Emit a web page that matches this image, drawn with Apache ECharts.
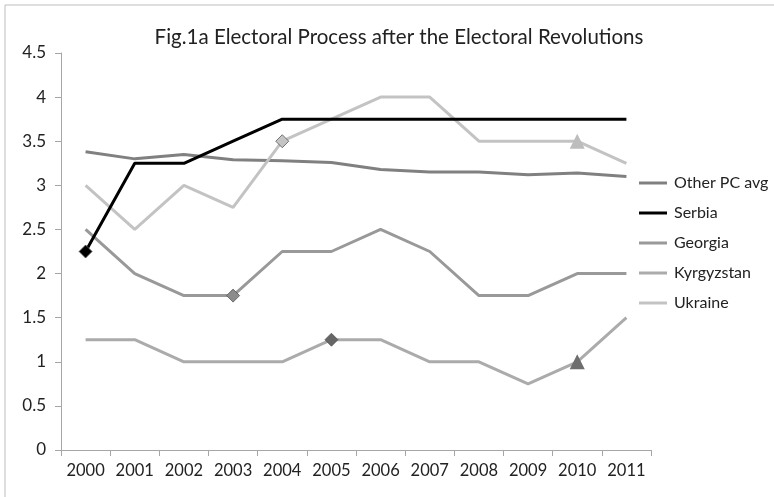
<!DOCTYPE html>
<html><head><meta charset="utf-8">
<script src="https://cdn.jsdelivr.net/npm/echarts@6/dist/echarts.min.js"></script>
<style>html,body{margin:0;padding:0;background:#fff}#c{width:774px;height:497px}</style>
</head><body><div id="c"></div>
<script>
const years = ['2000','2001','2002','2003','2004','2005','2006','2007','2008','2009','2010','2011'];
const otherPC = [3.38,3.30,3.35,3.29,3.28,3.26,3.18,3.15,3.15,3.12,3.14,3.10];
const serbia = [2.25,3.25,3.25,3.5,3.75,3.75,3.75,3.75,3.75,3.75,3.75,3.75];
const georgia = [2.5,2.0,1.75,1.75,2.25,2.25,2.5,2.25,1.75,1.75,2.0,2.0];
const kyrgyzstan = [1.25,1.25,1.0,1.0,1.0,1.25,1.25,1.0,1.0,0.75,1.0,1.5];
const ukraine = [3.0,2.5,3.0,2.75,3.5,3.75,4.0,4.0,3.5,3.5,3.5,3.25];
const yTicks = [0,0.5,1,1.5,2,2.5,3,3.5,4,4.5];

// marker points: [index, symbol, fill]
const marks = {
  serbia: [[0,'diamond','#000000']],
  georgia: [[3,'diamond','#8c8c8c']],
  kyrgyzstan: [[5,'diamond','#666666'],[10,'triangle','#6e6e6e']],
  ukraine: [[4,'diamond','#c4c4c4'],[10,'triangle','#bdbdbd']]
};

function mk(name, data, color, key){
  const m = marks[key] || [];
  const d = data.map((v,i)=>{
    const f = m.find(x=>x[0]===i);
    if(!f) return v;
    return {value:v, symbol:f[1], symbolSize:f[1]==='triangle'?15:13,
      itemStyle:{color:f[2], borderColor:'#555', borderWidth:f[1]==='triangle'?0:0.8}};
  });
  return {name, type:'line', data:d, symbol:'none', showSymbol:true, z: key==='serbia'?5:3,
    lineStyle:{color, width:3}, itemStyle:{color}, animation:false};
}

const chart = echarts.init(document.getElementById('c'));
chart.setOption({
  animation:false,
  backgroundColor:'#fff',
  title:{text:'Fig.1a Electoral Process after the Electoral Revolutions', left:394, top:22, textAlign:'center',
    textStyle:{fontFamily:'Lato', fontSize:20.5, fontWeight:'normal', color:'#222'}},
  graphic:[{type:'rect', shape:{x:5,y:5,width:800,height:600}, style:{fill:'none', stroke:'#bdbdbd', lineWidth:1}, z:-1}],
  legend:{orient:'vertical', left:634, top:170, itemGap:14, itemWidth:28, itemHeight:19,
    icon:'path://M0,8 L28,8 L28,11 L0,11 Z',
    textStyle:{fontFamily:'Lato', fontSize:16, color:'#222', padding:[0,0,0,2]},
    data:['Other PC avg','Serbia','Georgia','Kyrgyzstan','Ukraine']},
  grid:{left:61, right:123, top:53, bottom:47},
  xAxis:{type:'category', data:years, boundaryGap:true,
    axisLine:{lineStyle:{color:'#a6a6a6', width:1}},
    axisTick:{show:true, length:6, lineStyle:{color:'#a6a6a6'}},
    axisLabel:{fontFamily:'Lato', fontSize:16.5, color:'#222', margin:12, interval:0}},
  yAxis:{type:'value', min:0, max:4.5, interval:0.5,
    axisLine:{show:true, lineStyle:{color:'#a6a6a6'}},
    axisTick:{show:true, length:6, lineStyle:{color:'#a6a6a6'}},
    splitLine:{show:false},
    axisLabel:{fontFamily:'Lato', fontSize:17, color:'#222', margin:15}},
  series:[
    mk('Other PC avg', otherPC, '#808080','other'),
    mk('Serbia', serbia, '#000000','serbia'),
    mk('Georgia', georgia, '#999999','georgia'),
    mk('Kyrgyzstan', kyrgyzstan, '#ababab','kyrgyzstan'),
    mk('Ukraine', ukraine, '#c3c3c3','ukraine')
  ]
});
</script></body></html>
